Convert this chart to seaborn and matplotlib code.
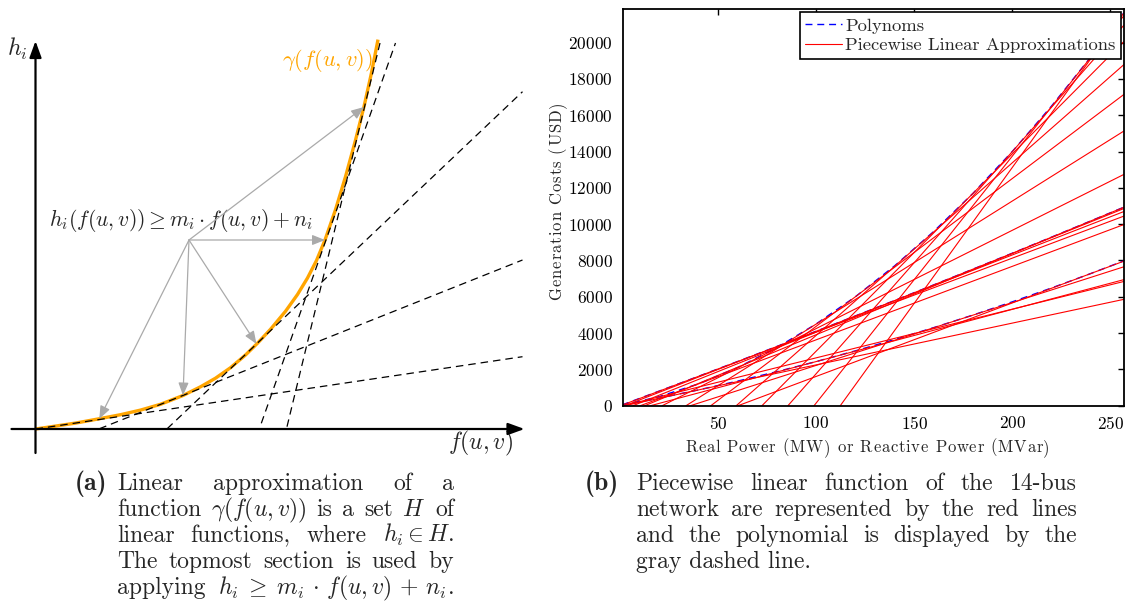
import numpy as np
import pandas as pd
import matplotlib
matplotlib.use("Agg")
import matplotlib.pyplot as plt
from matplotlib.lines import Line2D
from matplotlib.transforms import IdentityTransform
import seaborn as sns

# ---------------- panel (b) data ----------------
poly_x = [1, 20, 40, 60, 80, 100, 120, 140, 160, 180, 200, 220, 240, 257]
poly_gen_a = [20, 500, 1200, 2100, 3200, 4500, 6000, 7700, 9600, 11700, 14000, 16500, 19200, 21652]
poly_gen_b = [40, 804, 1616, 2436, 3264, 4100, 4944, 5796, 6656, 7524, 8400, 9284, 10176, 10940]
poly_gen_c = [20, 417, 869, 1355, 1875, 2430, 3020, 3643, 4302, 4994, 5721, 6483, 7279, 7982]

# each red segment: where it leaves the zero line, and its value at the right edge
pwl_x_start = [1.74, 10.36, 21.51, 33.68, 46.33, 59.28, 72.40, 85.64, 98.96, 112.34,
               0.30, 2.48, 6.66, 12.66,
               2.29, 15.56, 35.91, 60.20]
pwl_y_end = [6847, 9983, 12746, 15136, 17153, 18798, 20070, 20969, 21496, 21650,
             10448, 10700, 10865, 10937,
             5861, 6948, 7656, 7967]
pwl_x_end = 257

x_ticks = [50, 100, 150, 200, 250]
y_ticks = [0, 2000, 4000, 6000, 8000, 10000, 12000, 14000, 16000, 18000, 20000]

# ---------------- panel (a) data (schematic units) ----------------
gamma_u = [0, 20, 40, 63.5, 85, 105, 125, 147.5, 165, 180, 195, 210, 222, 235, 250,
           262, 272, 281, 289.5, 300, 310, 320, 328.5, 336, 342.5]
gamma_v = [0, 2.9, 5.9, 10.2, 14.3, 18.9, 24.7, 33.5, 42.2, 50.8, 61.3, 74, 85.8, 99.7,
           117.7, 134.5, 151, 168.5, 189, 219.3, 252.3, 288.8, 322.4, 356.2, 389.4]

tan_u0 = [0, 63.8, 131.7, 225.8, 251.5]
tan_v0 = [0, 0.2, 0.3, 5.7, 2.3]
tan_u1 = [487, 487, 487, 360, 344.5]
tan_v1 = [72.3, 169, 337.3, 386, 386]

arrow_origin = (153.5, 189)
arrow_tip_u = [63.8, 147.5, 221, 289.5, 328.5]
arrow_tip_v = [10.2, 33.5, 85, 189, 322]

cap_a = [["Linear", "approximation", "of", "a"],
         ["function", r"$\gamma(f(u,v))$", "is", "a", "set", r"$H$", "of"],
         ["linear", "functions,", "where", r"$h_i \in H$."],
         ["The", "topmost", "section", "is", "used", "by"],
         ["applying", r"$h_i \;\geq\; m_i \,\cdot\, f(u,v) \,+\, n_i$."]]
cap_b = [["Piecewise", "linear", "function", "of", "the", "14-bus"],
         ["network", "are", "represented", "by", "the", "red", "lines"],
         ["and", "the", "polynomial", "is", "displayed", "by", "the"],
         ["gray dashed line."]]
cap_a_justify = [True, True, True, True, True]
cap_b_justify = [True, True, True, False]

# ---------------- style ----------------
sns.set_style("white")
plt.rcParams["font.family"] = ["cmr10"]
plt.rcParams["mathtext.fontset"] = "cm"
plt.rcParams["axes.unicode_minus"] = False
plt.rcParams["axes.formatter.use_mathtext"] = True

W, H = 1128, 609
fig = plt.figure(figsize=(W / 100, H / 100), dpi=100)
fig.patch.set_facecolor("white")
renderer = fig.canvas.get_renderer()
ID = IdentityTransform()

# ================= panel (a) =================
axA = fig.add_axes([0, (H - 470) / H, 540 / W, 470 / H])
axA.set_xlim(-35.5, 504.5)
axA.set_ylim(-41, 429)
axA.axis("off")

sns.lineplot(x=gamma_u, y=gamma_v, sort=False, ax=axA, color="#FFA500", lw=2.4,
             solid_joinstyle="round", solid_capstyle="butt", zorder=2)
tan_df = pd.DataFrame({
    "u": [v for pair in zip(tan_u0, tan_u1) for v in pair],
    "v": [v for pair in zip(tan_v0, tan_v1) for v in pair],
    "k": [i for i in range(len(tan_u0)) for _ in range(2)],
})
sns.lineplot(data=tan_df, x="u", y="v", units="k", estimator=None, sort=False, ax=axA,
             color="black", lw=0.9, linestyle=(0, (6, 4)), legend=False, zorder=3)

for tu, tv in zip(arrow_tip_u, arrow_tip_v):
    axA.annotate("", xy=(tu, tv), xytext=arrow_origin,
                 arrowprops=dict(arrowstyle="-|>,head_length=0.55,head_width=0.22",
                                 mutation_scale=14, color="#aaaaaa", lw=0.9,
                                 shrinkA=0, shrinkB=0), zorder=4)

axA.annotate("", xy=(489, 0), xytext=(-24, 0),
             arrowprops=dict(arrowstyle="-|>,head_length=0.55,head_width=0.2",
                             mutation_scale=18, color="black", lw=1.6,
                             shrinkA=0, shrinkB=0), zorder=5)
axA.annotate("", xy=(0, 388), xytext=(0, -24),
             arrowprops=dict(arrowstyle="-|>,head_length=0.55,head_width=0.2",
                             mutation_scale=18, color="black", lw=1.6,
                             shrinkA=0, shrinkB=0), zorder=5)

axA.text(-28.5, 380, r"$h_i$", fontsize=17, ha="left", va="center")
axA.text(412.5, -14, r"$f(u,v)$", fontsize=17, ha="left", va="center")
axA.text(246, 369, r"$\gamma(f(u,v))$", fontsize=16.2, ha="left", va="center",
         color="#FFA500")
axA.text(13.5, 209, r"$h_i(f(u,v)) \geq m_i \cdot f(u,v) + n_i$", fontsize=15.6,
         ha="left", va="center")

# ================= panel (b) =================
axB = fig.add_axes([622.7 / W, (H - 405.7) / H, 501.3 / W, 396.4 / H])

poly_df = pd.DataFrame({
    "x": poly_x * 3,
    "y": poly_gen_a + poly_gen_b + poly_gen_c,
    "gen": ["a"] * len(poly_x) + ["b"] * len(poly_x) + ["c"] * len(poly_x),
})
sns.lineplot(data=poly_df, x="x", y="y", units="gen", estimator=None, sort=False,
             ax=axB, color="blue", lw=1.0, linestyle=(0, (5, 3.5)), legend=False)

seg_df = pd.DataFrame({
    "x": [v for xs in pwl_x_start for v in (xs, pwl_x_end)],
    "y": [v for ye in pwl_y_end for v in (0, ye)],
    "seg": [i for i in range(len(pwl_x_start)) for _ in range(2)],
})
sns.lineplot(data=seg_df, x="x", y="y", units="seg", estimator=None, sort=False,
             ax=axB, color="red", lw=0.8, legend=False)

axB.set_xlim(1.4, 257)
axB.set_ylim(0, 21840)
axB.set_xticks(x_ticks)
axB.set_yticks(y_ticks)
axB.tick_params(direction="in", length=4, width=1.0, top=True, right=True,
                labelsize=12.5, pad=7, colors="black")
for s in axB.spines.values():
    s.set_color("black")
    s.set_linewidth(1.3)
    s.set_visible(True)
axB.set_xlabel("")
axB.set_ylabel("")

handles = [Line2D([], [], color="blue", lw=1.0, linestyle=(0, (5, 3.5))),
           Line2D([], [], color="red", lw=0.8)]
leg = axB.legend(handles, ["Polynoms", "Piecewise Linear Approximations"],
                 loc="upper right", bbox_to_anchor=(1.0, 1.0), borderaxespad=0.15,
                 fontsize=13.4, frameon=True, fancybox=False, framealpha=1,
                 edgecolor="black", handlelength=2.0, handletextpad=0.15,
                 labelspacing=0.2, borderpad=0.3)
leg.get_frame().set_linewidth(1.2)


# ================= helpers for text in pixel coordinates =================
def measure(s, size, **kw):
    t = fig.text(0, 0, s, fontsize=size, transform=ID, **kw)
    w = t.get_window_extent(renderer).width
    t.remove()
    return w


def tracked(s, x, y, size, target, vertical=False, **kw):
    """Letter-spaced text. Horizontal: x = left, y = baseline (image px).
    Vertical: x = baseline, y = centre (image px)."""
    base = measure("l", size, **kw)
    pos = [measure(s[:k] + "l", size, **kw) - base for k in range(len(s))]
    nat = measure(s, size, **kw)
    tr = (target - nat) / max(len(s) - 1, 1)
    for k, c in enumerate(s):
        if c == " ":
            continue
        off = pos[k] + k * tr
        if vertical:
            fig.text(x, H - (y + target / 2 - off), c, fontsize=size, rotation=90,
                     rotation_mode="anchor", ha="left", va="baseline", transform=ID, **kw)
        else:
            fig.text(x + off, H - y, c, fontsize=size, ha="left", va="baseline",
                     transform=ID, **kw)


# axis titles of panel (b), letter-spaced like the original
tracked("Real Power (MW) or Reactive Power (MVar)", 685, 452, 12, 365)
tracked("Generation Costs (USD)", 561.5, 201, 12, 198, vertical=True)

# ================= captions =================
CAP = 17
space_w = measure("a a", CAP) - measure("aa", CAP)


def put_line(tokens, x_left, x_right, y_img, justify):
    objs = [fig.text(0, 0, tok, fontsize=CAP, ha="left", va="baseline",
                     transform=ID) for tok in tokens]
    widths = [o.get_window_extent(renderer).width for o in objs]
    if justify and len(objs) > 1:
        gap = (x_right - x_left - sum(widths)) / (len(objs) - 1)
    else:
        gap = space_w
    x = x_left
    for o, w in zip(objs, widths):
        o.set_position((x, H - y_img))
        x += w + gap


base_y = [490, 516, 542, 568, 594]
fig.text(75, H - base_y[0], "(a)", fontsize=18.5, family="cmb10", ha="left",
         va="baseline", transform=ID)
for i, toks in enumerate(cap_a):
    put_line(toks, 117, 454, base_y[i], cap_a_justify[i])

fig.text(585, H - base_y[0], "(b)", fontsize=18.5, family="cmb10", ha="left",
         va="baseline", transform=ID)
for i, toks in enumerate(cap_b):
    put_line(toks, 636, 1077, base_y[i], cap_b_justify[i])

fig.savefig("out.png", dpi=100, facecolor="white")
